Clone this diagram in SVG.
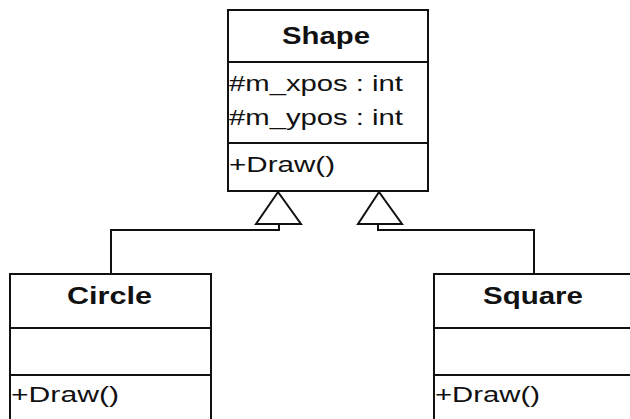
<svg xmlns="http://www.w3.org/2000/svg" width="630" height="419" viewBox="0 0 630 419">
<style>
.box{fill:#fff;stroke:#111;stroke-width:2}
.sep{stroke:#111;stroke-width:2}
.con{fill:none;stroke:#111;stroke-width:2}
.tri{fill:#fff;stroke:#111;stroke-width:2;stroke-linejoin:miter}
.t{font-family:"Liberation Sans",Arial,sans-serif;font-size:22px;fill:#111}
.b{font-weight:bold;font-size:23px}
</style>
<rect width="630" height="419" fill="#fff"/>
<g id="connectors">
<path class="con" d="M111,274 V230 H279 V224"/>
<path class="con" d="M534,274 V230 H378 V224"/>
<polygon class="tri" points="278,192 256,224 301,224"/>
<polygon class="tri" points="379,192 358,224 402,224"/>
</g>
<g id="shape">
<rect class="box" x="228" y="10" width="200" height="181"/>
<line class="sep" x1="228" y1="62" x2="428" y2="62"/>
<line class="sep" x1="228" y1="143" x2="428" y2="143"/>
<text class="t b" x="282" y="44" textLength="88" lengthAdjust="spacingAndGlyphs">Shape</text>
<text class="t" x="229" y="91" textLength="174" lengthAdjust="spacingAndGlyphs">#m_xpos : int</text>
<text class="t" x="229" y="125" textLength="174" lengthAdjust="spacingAndGlyphs">#m_ypos : int</text>
<text class="t" x="229" y="172" textLength="106" lengthAdjust="spacingAndGlyphs">+Draw()</text>
</g>
<g id="circle">
<rect class="box" x="10" y="274" width="201" height="160"/>
<line class="sep" x1="10" y1="328" x2="211" y2="328"/>
<line class="sep" x1="10" y1="375" x2="211" y2="375"/>
<text class="t b" x="67" y="304" textLength="85" lengthAdjust="spacingAndGlyphs">Circle</text>
<text class="t" x="11" y="402" textLength="108" lengthAdjust="spacingAndGlyphs">+Draw()</text>
</g>
<g id="square">
<rect class="box" x="434" y="274" width="201" height="160"/>
<line class="sep" x1="434" y1="328" x2="635" y2="328"/>
<line class="sep" x1="434" y1="375" x2="635" y2="375"/>
<text class="t b" x="483" y="304" textLength="100" lengthAdjust="spacingAndGlyphs">Square</text>
<text class="t" x="435" y="402" textLength="105" lengthAdjust="spacingAndGlyphs">+Draw()</text>
</g>
</svg>
